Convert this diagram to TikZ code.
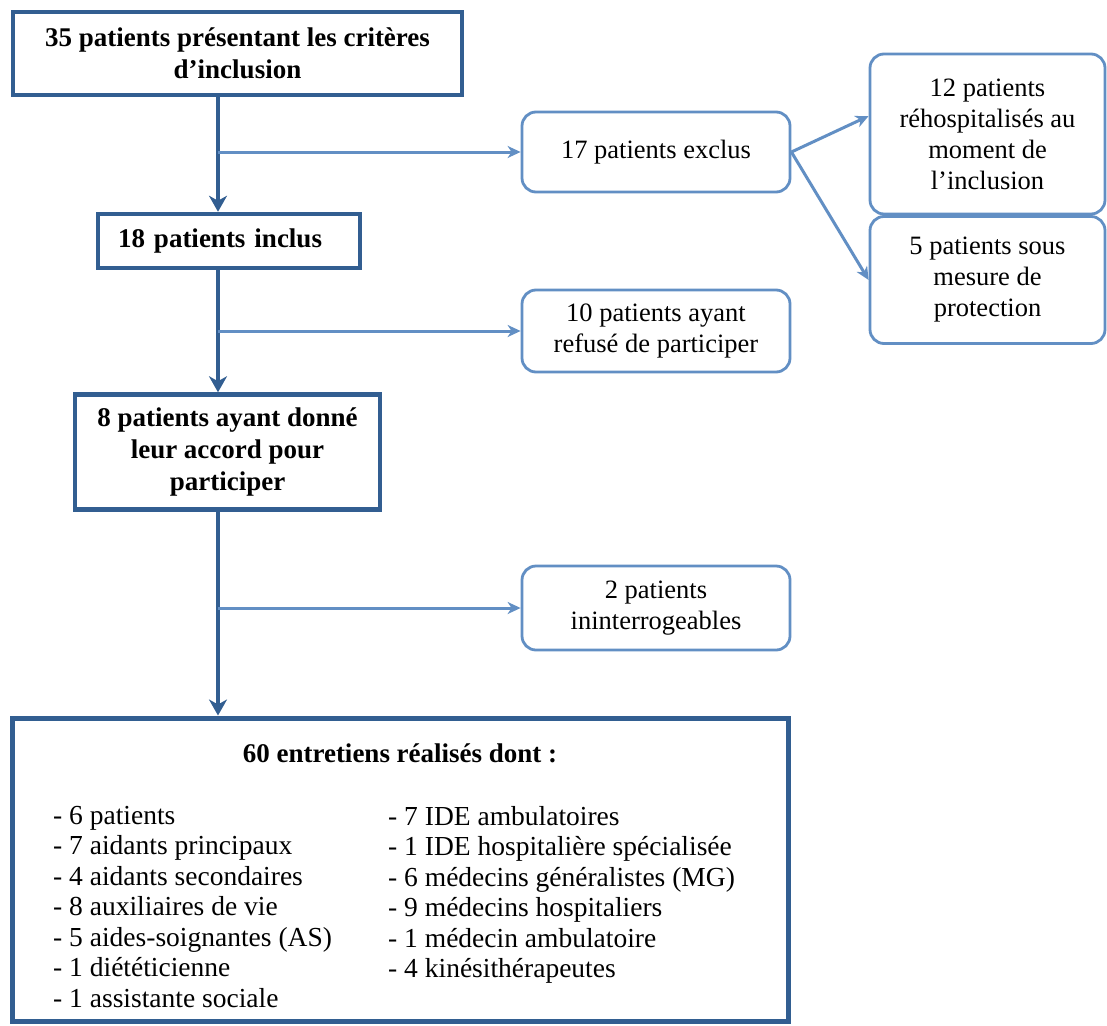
\documentclass[tikz,border=0pt]{standalone}
\usepackage{fontspec}
\setmainfont{Liberation Serif}
\usetikzlibrary{arrows.meta,calc}
\definecolor{dkblue}{RGB}{50,94,145}
\definecolor{ltblue}{RGB}{98,143,196}
\begin{document}
\begin{tikzpicture}[x=1pt,y=-1pt,
  mainbox/.style={draw=dkblue, line width=4.5pt, fill=white, inner sep=0pt, align=center,
    font=\fontsize{27}{32}\selectfont\bfseries},
  sidebox/.style={draw=ltblue, line width=2.8pt, rounded corners=14pt, fill=white, inner sep=0pt,
    align=center, font=\fontsize{26.5}{31}\selectfont},
  listtext/.style={inner sep=0pt, align=left, anchor=north west, font=\fontsize{27.5}{30.5}\selectfont},
  spinearrow/.style={draw=dkblue, line width=4.5pt, -{Stealth[length=16pt,width=18pt,inset=5pt]}},
  brancharrow/.style={draw=ltblue, line width=3pt, -{Stealth[length=13pt,width=12pt,inset=4pt]}},
]
\useasboundingbox[fill=white] (0,0) rectangle (1107,1025);

% main column
\node[mainbox, minimum width=449pt, minimum height=83pt] (box1) at (237.5,53.5)
  {35 patients présentant les critères\\d’inclusion};
\node[mainbox, minimum height=54pt, text width=222pt, inner xsep=20pt, align=left] (box2) at (229,241)
  {18 patients inclus};
\node[mainbox, minimum width=305pt, minimum height=115pt] (box3) at (227.5,452)
  {8 patients ayant donné\\leur accord pour\\participer};
\node[mainbox, line width=5pt, minimum width=776pt, minimum height=303pt] (box4) at (400,869.5) {};

% side boxes
\node[sidebox, minimum width=268pt, minimum height=80pt] (box17) at (656,152) {17 patients exclus};
\node[sidebox, minimum width=235pt, minimum height=160pt] (box12) at (987.5,134)
  {12 patients\\réhospitalisés au\\moment de\\l’inclusion};
\node[sidebox, minimum width=235pt, minimum height=127pt] (box5) at (987.5,280)
  {5 patients sous\\mesure de\\protection};
\node[sidebox, minimum width=268pt, minimum height=82pt] (box10) at (656,331)
  {10 patients ayant\\refusé de participer};
\node[sidebox, minimum width=268pt, minimum height=84pt] (box2p) at (656,608)
  {2 patients\\ininterrogeables};

% content of the final box
\node[inner sep=0pt, font=\fontsize{27}{32}\selectfont\bfseries] (t4) at (400,753)
  {60 entretiens réalisés dont :};
\node[listtext] (l4a) at (53,806)
  {- 6 patients\\- 7 aidants principaux\\- 4 aidants secondaires\\- 8 auxiliaires de vie\\- 5 aides-soignantes (AS)\\- 1 diététicienne\\- 1 assistante sociale};
\node[listtext] (l4b) at (388,806)
  {- 7 IDE ambulatoires\\- 1 IDE hospitalière spécialisée\\- 6 médecins généralistes (MG)\\- 9 médecins hospitaliers\\- 1 médecin ambulatoire\\- 4 kinésithérapeutes};

% spine
\coordinate (sp) at (218,0);
\draw[spinearrow] (box1.south -| sp) -- (box2.north -| sp);
\draw[spinearrow] (box2.south -| sp) -- (box3.north -| sp);
\draw[spinearrow] (box3.south -| sp) -- (box4.north -| sp);

% branches
\draw[brancharrow] (sp |- box17.west) -- (box17.west);
\draw[brancharrow] (sp |- box10.west) -- (box10.west);
\draw[brancharrow] (sp |- box2p.west) -- (box2p.west);
\draw[brancharrow] (box17.east) -- ($(box12.west)+(0,-18)$);
\draw[brancharrow] (box17.east) -- (box5.west);
\end{tikzpicture}
\end{document}
